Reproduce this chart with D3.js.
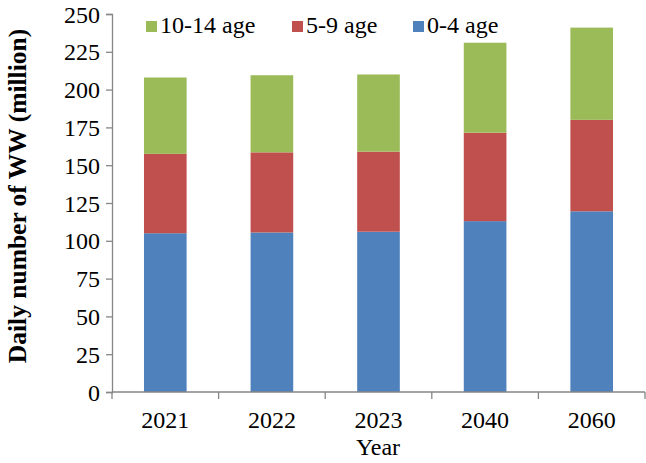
<!DOCTYPE html>
<html>
<head>
<meta charset="utf-8">
<script src="https://cdn.jsdelivr.net/npm/d3@7"></script>
<style>
  body { margin: 0; background: #fff; }
</style>
</head>
<body>
<div id="chart"></div>
<script>
// values (million)
const years = ["2021", "2022", "2023", "2040", "2060"];
const age0to4 = [105, 105.5, 106, 113, 119.5];
const age5to9 = [52.5, 53, 53, 58.5, 60.5];
const age10to14 = [50.5, 51, 51, 59.5, 61];
const yTicks = [0, 25, 50, 75, 100, 125, 150, 175, 200, 225, 250];

const seriesNames = ["0-4 age", "5-9 age", "10-14 age"];
const colors = {"0-4 age": "#4f81bd", "5-9 age": "#c0504d", "10-14 age": "#9bbb59"};
const FONT = "'Liberation Serif', 'Times New Roman', serif";

const W = 646, H = 463;
const margin = {top: 14, right: 1, bottom: 71, left: 112};
const width = W - margin.left - margin.right,
      height = H - margin.top - margin.bottom;

const table = years.map((y, i) => ({
  year: y,
  "0-4 age": age0to4[i],
  "5-9 age": age5to9[i],
  "10-14 age": age10to14[i]
}));
const stacked = d3.stack().keys(seriesNames)(table);

const svg = d3.select("#chart").append("svg")
  .attr("width", W).attr("height", H)
  .style("font-family", FONT);
const g = svg.append("g")
  .attr("transform", "translate(" + margin.left + "," + margin.top + ")");

const x = d3.scaleBand().domain(years).range([0, width]).paddingInner(0.6).paddingOuter(0.3);
const y = d3.scaleLinear().domain([0, 250]).range([height, 0]);

// bars
g.selectAll("g.layer")
  .data(stacked)
  .enter().append("g")
  .attr("class", "layer")
  .attr("fill", d => colors[d.key])
  .selectAll("rect")
  .data(d => d)
  .enter().append("rect")
    .attr("x", d => x(d.data.year))
    .attr("width", x.bandwidth())
    .attr("y", d => y(d[1]))
    .attr("height", d => y(d[0]) - y(d[1]));

// y axis
const yAxis = g.append("g")
  .call(d3.axisLeft(y).tickValues(yTicks).tickSize(6).tickSizeOuter(6).tickPadding(6));
yAxis.attr("font-family", null).attr("font-size", null);
yAxis.selectAll("line, path").attr("stroke", "#868686").attr("stroke-width", 1.3);
yAxis.selectAll("text")
  .style("font-family", FONT).style("font-size", "24px").attr("fill", "#000")
  .attr("dy", "0.34em");

// x axis with ticks at category boundaries
const xAxisG = g.append("g").attr("transform", "translate(0," + height + ")");
xAxisG.append("line")
  .attr("x1", 0).attr("x2", width)
  .attr("stroke", "#868686").attr("stroke-width", 1.3);
const step = width / years.length;
const bounds = d3.range(years.length + 1).map(i => i * step);
xAxisG.selectAll("line.tick")
  .data(bounds)
  .enter().append("line")
  .attr("class", "tick")
  .attr("x1", d => d).attr("x2", d => d)
  .attr("y1", 0).attr("y2", 7)
  .attr("stroke", "#868686").attr("stroke-width", 1.3);
xAxisG.selectAll("text")
  .data(years)
  .enter().append("text")
  .attr("x", d => x(d) + x.bandwidth() / 2)
  .attr("y", 36)
  .attr("text-anchor", "middle")
  .style("font-family", FONT)
  .style("font-size", "24px")
  .text(d => d);

// axis titles
svg.append("text")
  .attr("x", 378)
  .attr("y", 455)
  .attr("text-anchor", "middle")
  .style("font-family", FONT)
  .style("font-size", "24px")
  .text("Year");

svg.append("text")
  .attr("transform", "translate(26,196) rotate(-90)")
  .attr("text-anchor", "middle")
  .style("font-family", FONT)
  .style("font-size", "25.5px")
  .style("font-weight", "bold")
  .text("Daily number of WW (million)");

// legend
const legendItems = [
  {key: "10-14 age", x: 146},
  {key: "5-9 age", x: 292},
  {key: "0-4 age", x: 413}
];
const legend = svg.append("g");
legend.selectAll("rect")
  .data(legendItems)
  .enter().append("rect")
  .attr("x", d => d.x).attr("y", 21)
  .attr("width", 11).attr("height", 11)
  .attr("fill", d => colors[d.key]);
legend.selectAll("text")
  .data(legendItems)
  .enter().append("text")
  .attr("x", d => d.x + 14).attr("y", 33)
  .style("font-family", FONT)
  .style("font-size", "24px")
  .text(d => d.key);
</script>
</body>
</html>
